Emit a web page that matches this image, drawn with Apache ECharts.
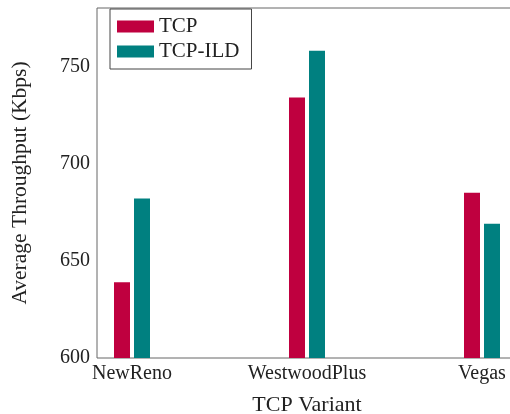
<!DOCTYPE html>
<html>
<head>
<meta charset="utf-8">
<script src="https://cdn.jsdelivr.net/npm/echarts@6/dist/echarts.min.js"></script>
<style>
  html, body { margin: 0; padding: 0; background: #fff; }
  #chart { width: 510px; height: 414px; }
</style>
</head>
<body>
<div id="chart"></div>
<script>
const categories = ['NewReno', 'WestwoodPlus', 'Vegas'];
const tcpValues = [639, 734, 685];
const ildValues = [682, 758, 669];
const yTicks = [600, 650, 700, 750];

const serif = 'Liberation Serif';

const chart = echarts.init(document.getElementById('chart'), null, { renderer: 'canvas' });

// x is a value axis so the groups sit where pgfplots put them (enlarged limits)
const toPairs = vals => vals.map((v, i) => [i, v]);

chart.setOption({
  backgroundColor: '#fff',
  animation: false,
  textStyle: { fontFamily: serif },
  grid: {
    left: 97,
    top: 8,
    bottom: 56,
    width: 420,
    outerBoundsMode: 'none',
    containLabel: false,
    show: true,
    borderColor: '#666',
    borderWidth: 1
  },
  legend: {
    orient: 'vertical',
    left: 110,
    top: 9,
    padding: [7, 12, 7, 7],
    itemGap: 4,
    itemWidth: 37,
    itemHeight: 12,
    icon: 'rect',
    borderColor: '#444',
    borderWidth: 1,
    backgroundColor: '#fff',
    textStyle: { fontFamily: serif, fontSize: 21, color: '#222' },
    data: ['TCP', 'TCP-ILD']
  },
  xAxis: {
    type: 'value',
    min: -0.2,
    max: 2.2,
    name: 'TCP Variant',
    nameLocation: 'middle',
    nameGap: 36,
    nameTextStyle: { fontFamily: serif, fontSize: 22, color: '#222' },
    axisLine: { show: false },
    axisTick: { show: false },
    splitLine: { show: false },
    axisLabel: {
      customValues: [0, 1, 2],
      formatter: v => categories[Math.round(v)] || '',
      fontFamily: serif,
      fontSize: 20,
      color: '#222',
      margin: 6
    }
  },
  yAxis: {
    type: 'value',
    min: 600,
    max: 780,
    interval: 50,
    name: 'Average Throughput (Kbps)',
    nameLocation: 'middle',
    nameGap: 66,
    nameTextStyle: { fontFamily: serif, fontSize: 21.5, color: '#222' },
    axisLine: { show: false },
    axisTick: { show: false },
    splitLine: { show: false },
    axisLabel: {
      customValues: yTicks,
      fontFamily: serif,
      fontSize: 20,
      color: '#222',
      margin: 7
    }
  },
  series: [
    {
      name: 'TCP',
      type: 'bar',
      data: toPairs(tcpValues),
      barWidth: 16,
      barGap: '25%',
      itemStyle: { color: '#bf003f' }
    },
    {
      name: 'TCP-ILD',
      type: 'bar',
      data: toPairs(ildValues),
      barWidth: 16,
      barGap: '25%',
      itemStyle: { color: '#008080' }
    }
  ]
});
</script>
</body>
</html>
